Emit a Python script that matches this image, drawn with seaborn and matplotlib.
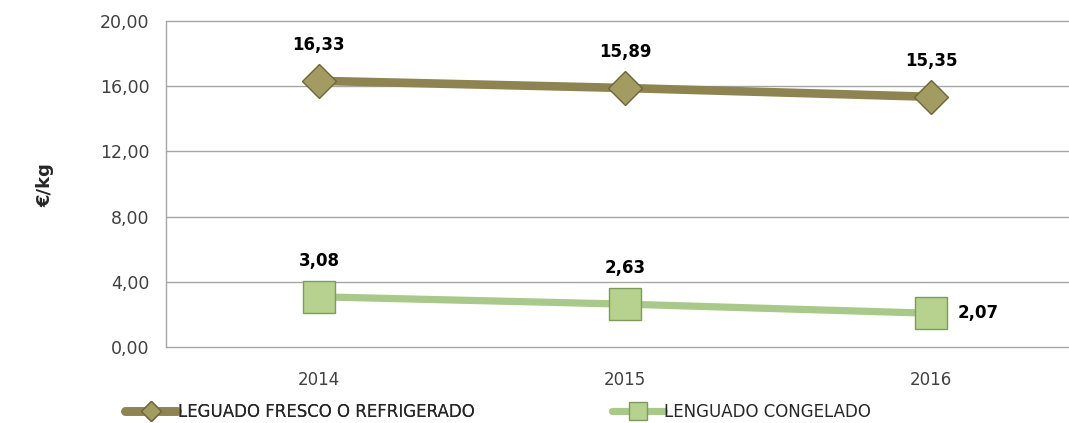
import matplotlib
matplotlib.use("Agg")
import matplotlib.pyplot as plt
import seaborn as sns
import pandas as pd

# data
years = ["2014", "2015", "2016"]
fresco = [16.33, 15.89, 15.35]
congelado = [3.08, 2.63, 2.07]
name_fresco = "LEGUADO FRESCO O REFRIGERADO"
name_congelado = "LENGUADO CONGELADO"
y_ticks = [0, 4, 8, 12, 16, 20]

sns.set_theme(style="white")
plt.rcParams["font.family"] = ["DejaVu Sans"]

df = pd.DataFrame({
    "Year": years * 2,
    "Price": fresco + congelado,
    "Serie": [name_fresco] * 3 + [name_congelado] * 3,
})
df["x"] = df.groupby("Serie").cumcount()

fig = plt.figure(figsize=(10.69, 4.23), dpi=100)
ax = fig.add_axes([166 / 1069, 1 - 347 / 423, 1 - 166 / 1069, (347 - 21) / 423])

grid_col = "#A6A6A6"
for t in y_ticks:
    ax.axhline(t, color=grid_col, lw=1.0, zorder=0, clip_on=False)

styles = {
    name_fresco: dict(color="#8E8451", marker="D", ms=17, mfc="#A39C62", mec="#6E6638", lw=6.2),
    name_congelado: dict(color="#A9C98A", marker="s", ms=22.5, mfc="#B7D18E", mec="#7E9A5C", lw=5.2),
}

handles = {}
for name, vals in [(name_fresco, fresco), (name_congelado, congelado)]:
    sub = df[df["Serie"] == name]
    st = styles[name]
    sns.lineplot(data=sub, x="x", y="Price", ax=ax, color=st["color"], lw=st["lw"],
                 marker=st["marker"], markersize=st["ms"], markerfacecolor=st["mfc"],
                 markeredgecolor=st["mec"], markeredgewidth=1.0, zorder=3)
    handles[name] = ax.lines[-1]

# data labels
lab_kw = dict(textcoords="offset points", va="center", fontsize=12, fontweight="bold", color="black")
for i, v in enumerate(fresco):
    ax.annotate(f"{v:.2f}".replace(".", ","), (i, v), xytext=(0, 26), ha="center", **lab_kw)
for i, v in enumerate(congelado):
    if i < 2:
        ax.annotate(f"{v:.2f}".replace(".", ","), (i, v), xytext=(0, 26), ha="center", **lab_kw)
    else:
        ax.annotate(f"{v:.2f}".replace(".", ","), (i, v), xytext=(19, 0), ha="left", **lab_kw)

ax.set_xlim(-0.5, -0.5 + (1069 - 166) / 306)
ax.set_ylim(0, 20)
ax.set_xticks(range(len(years)))
ax.set_xticklabels(years, fontsize=12, color="#404040")
ax.set_yticks(y_ticks)
ax.set_yticklabels([f"{t:.2f}".replace(".", ",") for t in y_ticks], fontsize=12.5, color="#404040")
ax.tick_params(axis="y", length=4, color=grid_col, pad=8)
ax.tick_params(axis="x", length=0, pad=17)
ax.set_xlabel("")
ax.set_ylabel("")
for s in ["top", "right", "bottom"]:
    ax.spines[s].set_visible(False)
ax.spines["left"].set_color(grid_col)
ax.spines["left"].set_linewidth(1.0)

fig.text(45 / 1069, 1 - 185 / 423, "€/kg", rotation=90, ha="center", va="center",
         fontsize=13, fontweight="bold")

# two legend entries placed like the original
leg_kw = dict(loc="center left", frameon=False, fontsize=12, handlelength=3.1,
              handletextpad=0.05, borderpad=0, borderaxespad=0, markerscale=0.6)
leg1 = fig.legend([handles[name_fresco]], [name_fresco],
                  bbox_to_anchor=(125 / 1069, 1 - 412 / 423), **leg_kw)
leg2 = fig.legend([handles[name_congelado]], [name_congelado],
                  bbox_to_anchor=(612 / 1069, 1 - 412 / 423), **leg_kw)
fig.add_artist(leg1)
for leg in (leg1, leg2):
    for t in leg.get_texts():
        t.set_color("#262626")

fig.savefig("out.png", dpi=100)
